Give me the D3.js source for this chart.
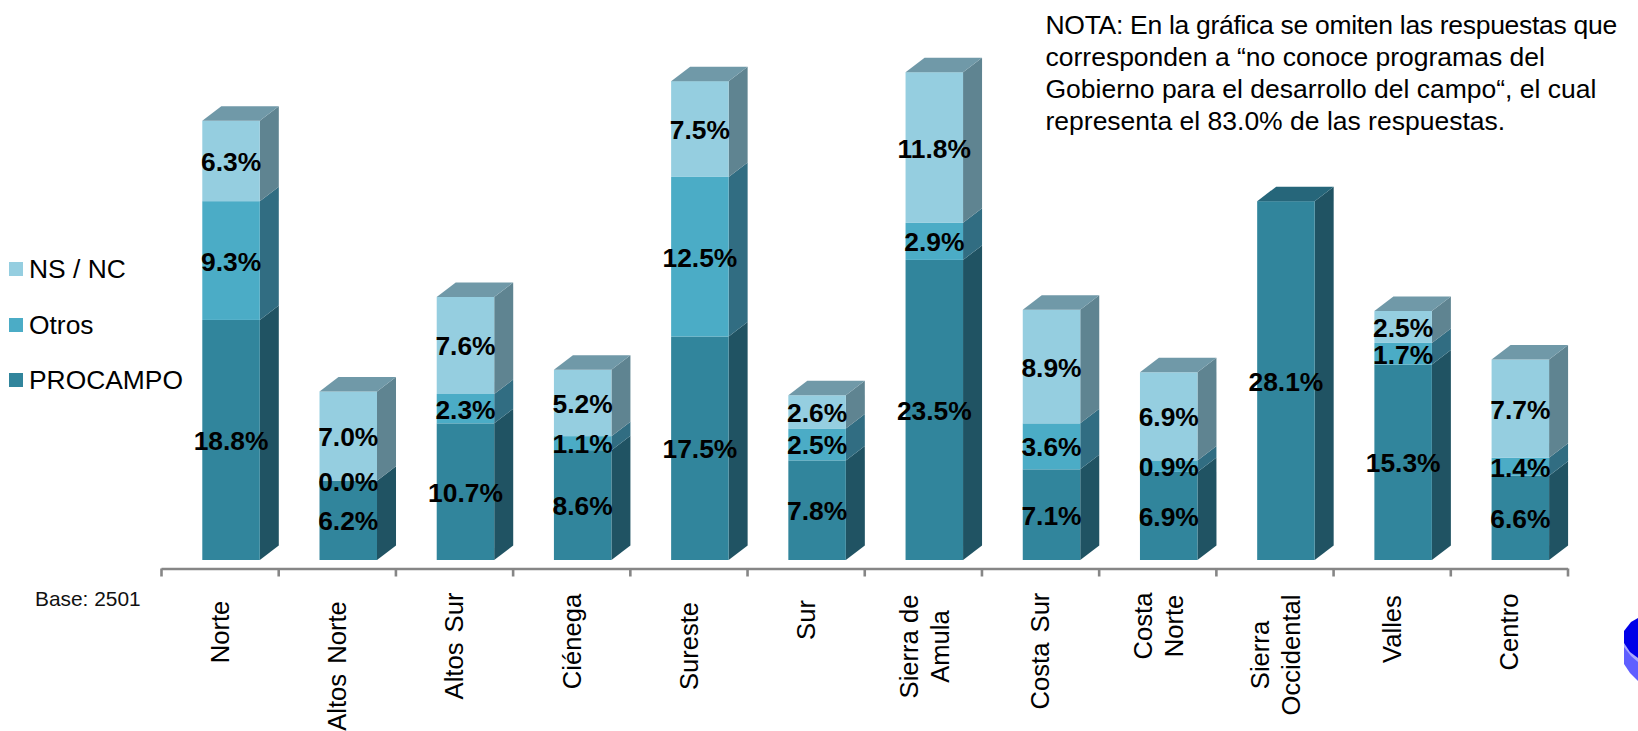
<!DOCTYPE html>
<html><head><meta charset="utf-8">
<style>html,body{margin:0;padding:0;background:#fff;overflow:hidden}svg{display:block;font-family:"Liberation Sans",Arial,sans-serif}</style>
<script src="https://cdn.jsdelivr.net/npm/d3@7"></script>
</head><body><svg id="c" width="1638" height="731"></svg>
<script>
const categories = ["Norte","Altos Norte","Altos Sur","Ciénega","Sureste","Sur","Sierra de Amula","Costa Sur","Costa Norte","Sierra Occidental","Valles","Centro"];
const categoryLines = [["Norte"],["Altos Norte"],["Altos Sur"],["Ciénega"],["Sureste"],["Sur"],["Sierra de","Amula"],["Costa Sur"],["Costa","Norte"],["Sierra","Occidental"],["Valles"],["Centro"]];
const seriesNames = ["PROCAMPO","Otros","NS / NC"];
const procampo = [18.8,6.2,10.7,8.6,17.5,7.8,23.5,7.1,6.9,28.1,15.3,6.6];
const otros    = [9.3,0.0,2.3,1.1,12.5,2.5,2.9,3.6,0.9,null,1.7,1.4];
const nsnc     = [6.3,7.0,7.6,5.2,7.5,2.6,11.8,8.9,6.9,null,2.5,7.7];
const noteLines = ["NOTA: En la gráfica se omiten las respuestas que","corresponden a “no conoce programas del","Gobierno para el desarrollo del campo“, el cual","representa el 83.0% de las respuestas."];
const baseNote = "Base: 2501";

// layout and style, separate from the data
const seriesValues = [procampo, otros, nsnc];
const frontColors = ["#31859C","#4BACC6","#95CEE0"];
const sideColors  = ["#205363","#316D82","#5F8491"];
const topColors   = ["#26667A","#3A8299","#7099A8"];
const labelCenters = [632,666,646,641.5,646,620,646.5,651,626,655,629,632];
const legendY = [269,325,380];
const noteSpacing = [-0.3,0,0,0];

const svg = d3.select("#c");
const x = d3.scaleBand().domain(categories).range([161,1567.5]);
const y = d3.scaleLinear().domain([0,40]).range([560,560-40*12.77]);
const barOffset = 41.3, barW = 57.5, dx = 19, dy = 14.5;

const stacks = categories.map((c,i)=>{
  let acc = 0;
  return seriesValues.map((vals,s)=>{
    const v = vals[i]; const y0 = acc; acc += (v||0);
    return {c, s, v, y0, y1: acc};
  });
});

// bars
const gBars = svg.append("g");
stacks.forEach(st=>{
  const g = gBars.append("g");
  const left = d=>x(d.c)+barOffset;
  const drawn = st.filter(d=>d.v!==null && d.v>0);
  g.selectAll(".side").data(drawn).join("path").attr("fill",d=>sideColors[d.s])
    .attr("d",d=>{
      const r=left(d)+barW;
      return `M${r},${y(d.y0)}L${r+dx},${y(d.y0)-dy}L${r+dx},${y(d.y1)-dy}L${r},${y(d.y1)}Z`;
    });
  g.selectAll(".front").data(drawn).join("rect").attr("fill",d=>frontColors[d.s])
    .attr("x",left).attr("width",barW).attr("y",d=>y(d.y1)).attr("height",d=>y(d.y0)-y(d.y1));
  const t = drawn[drawn.length-1];
  g.append("path").attr("fill",topColors[t.s])
    .attr("d",`M${left(t)},${y(t.y1)}L${left(t)+dx},${y(t.y1)-dy}L${left(t)+barW+dx},${y(t.y1)-dy}L${left(t)+barW},${y(t.y1)}Z`);
});

// axis
const edge = d3.scaleLinear().domain([0,categories.length]).range(x.range());
const axis = svg.append("g").attr("transform","translate(0,568.5)")
  .call(d3.axisBottom(edge).tickValues(d3.range(categories.length+1)).tickFormat("").tickSize(8).tickSizeOuter(0));
axis.selectAll("path,line").attr("stroke","#868686").attr("stroke-width",2.6);

// value labels
stacks.flat().filter(d=>d.v!==null).forEach(d=>{
  svg.append("text").attr("x",x(d.c)+barOffset+barW/2).attr("y",y((d.y0+d.y1)/2)+10)
    .attr("text-anchor","middle").attr("font-weight","bold").attr("font-size",26.4).attr("fill","#000")
    .text(d.v.toFixed(1)+"%");
});

// category labels
categories.forEach((c,i)=>{
  const lines = categoryLines[i];
  lines.forEach((ln,k)=>{
    const bx = x(c) + (lines.length===1 ? 68 : (k===0?53.5:84.5));
    svg.append("text").attr("transform",`translate(${bx},${labelCenters[i]}) rotate(-90)`)
      .attr("text-anchor","middle").attr("font-size",25.6).attr("fill","#000")
      .attr("word-spacing",lines.length===1?3:0).text(ln);
  });
});

// legend
[2,1,0].forEach((s,k)=>{
  svg.append("rect").attr("x",9).attr("y",legendY[k]-7).attr("width",14).attr("height",14).attr("fill",frontColors[s]);
  svg.append("text").attr("x",29).attr("y",legendY[k]+9).attr("font-size",26.4).attr("fill","#000").text(seriesNames[s]);
});

// notes
svg.append("text").attr("x",35).attr("y",606).attr("font-size",20.9).attr("fill","#111").text(baseNote);
noteLines.forEach((ln,i)=>{
  svg.append("text").attr("x",1045.5).attr("y",34+i*32).attr("font-size",26.5)
    .attr("letter-spacing",noteSpacing[i]).attr("fill","#000").text(ln);
});

// decorative blue shape clipped at the right edge
svg.append("path").attr("fill","#5F5FFF").attr("d","M1638,640L1624,640L1624,664L1630,673L1638,681Z");
svg.append("path").attr("fill","#A9A9FF").attr("d","M1638,662L1631,656L1624,647L1624,640L1638,640Z");
svg.append("path").attr("fill","#0000E8").attr("d","M1638,618L1631,622L1624,631L1624,643L1630,652L1638,658Z");
</script></body></html>
